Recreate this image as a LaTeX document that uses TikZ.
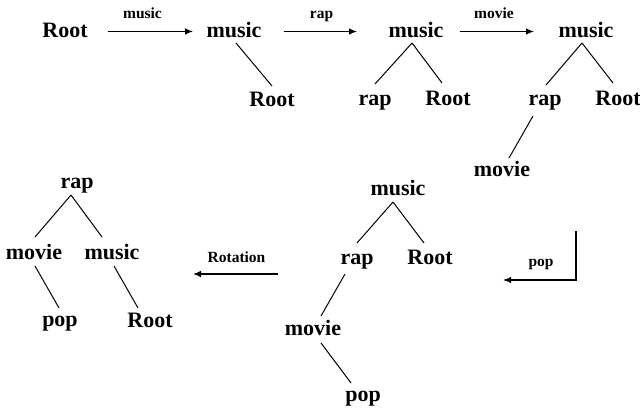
\documentclass[tikz,border=0pt]{standalone}
\usepackage{fontspec}
\setmainfont{Liberation Serif}
\usetikzlibrary{arrows.meta}
\tikzset{
  big/.style={font=\fontsize{22}{26}\selectfont\bfseries, inner sep=0pt, anchor=base},
  small/.style={font=\fontsize{15.5}{18}\selectfont\bfseries, inner sep=0pt, anchor=base},
  edge/.style={line width=1pt},
  arr/.style={line width=1.1pt, -{Latex[length=8pt,width=6.5pt]}},
}
\begin{document}
\begin{tikzpicture}[x=1pt,y=-1pt]
\useasboundingbox (0,0) rectangle (640,409);
% ---- row 1
\node[big] (n1) at (65,38) {Root};
\node[big] (n2) at (234,38) {music};
\node[big] (n2r) at (272,107) {Root};
\node[big] (n3) at (416,38) {music};
\node[big] (n3a) at (375,106) {rap};
\node[big] (n3b) at (448,106) {Root};
\node[big] (n4) at (586,38) {music};
\node[big] (n4a) at (545,106) {rap};
\node[big] (n4b) at (618,106) {Root};
\node[big] (n4c) at (502,177) {movie};
\draw[edge] ([shift={(2,5)}]n2.base) -- ([shift={(0,-21)}]n2r.base);
\draw[edge] ([shift={(-4,5)}]n3.base) -- ([shift={(0,-22)}]n3a.base);
\draw[edge] ([shift={(-4,5)}]n3.base) -- ([shift={(-6,-23)}]n3b.base);
\draw[edge] ([shift={(-4,5)}]n4.base) -- ([shift={(1,-21)}]n4a.base);
\draw[edge] ([shift={(-4,5)}]n4.base) -- ([shift={(-5,-23)}]n4b.base);
\draw[edge] ([shift={(-12,10)}]n4a.base) -- ([shift={(7,-19)}]n4c.base);
% row 1 arrows
\coordinate (a1s) at (108,31.5); \coordinate (a1e) at (193,31.5);
\coordinate (a2s) at (284,31.5); \coordinate (a2e) at (357,31.5);
\coordinate (a3s) at (460,31.5); \coordinate (a3e) at (534,31.5);
\draw[arr] (a1s) -- (a1e);
\draw[arr] (a2s) -- (a2e);
\draw[arr] (a3s) -- (a3e);
\node[small] (l1) at (142.5,19) {music};
\node[small] (l2) at (321.5,19) {rap};
\node[small] (l3) at (494,19) {movie};
% ---- right tree row 2
\node[big] (r1) at (398,195) {music};
\node[big] (r2) at (357,264) {rap};
\node[big] (r3) at (430,264) {Root};
\node[big] (r4) at (313,335) {movie};
\node[big] (r5) at (363,401) {pop};
\draw[edge] ([shift={(-5,7)}]r1.base) -- ([shift={(0,-21)}]r2.base);
\draw[edge] ([shift={(-5,7)}]r1.base) -- ([shift={(-6,-21)}]r3.base);
\draw[edge] ([shift={(-12,10)}]r2.base) -- ([shift={(8,-19)}]r4.base);
\draw[edge] ([shift={(8,8)}]r4.base) -- ([shift={(-12,-18)}]r5.base);
% pop elbow arrow
\coordinate (p1) at (576,231); \coordinate (p2) at (576,280); \coordinate (p3) at (503,280);
\draw[arr] (p1) -- (p2) -- (p3);
\node[small] (lp) at (541,266) {pop};
% rotation arrow
\coordinate (rs) at (278,274); \coordinate (re) at (193,274);
\draw[arr] (rs) -- (re);
\node[small] (lr) at (236.5,262) {Rotation};
% ---- left tree
\node[big] (t1) at (77,189) {rap};
\node[big] (t2) at (34,259) {movie};
\node[big] (t3) at (112,259) {music};
\node[big] (t4) at (60,326) {pop};
\node[big] (t5) at (150,327) {Root};
\draw[edge] ([shift={(-6,6)}]t1.base) -- ([shift={(1,-22)}]t2.base);
\draw[edge] ([shift={(-6,6)}]t1.base) -- ([shift={(-10,-22)}]t3.base);
\draw[edge] ([shift={(1,7)}]t2.base) -- ([shift={(-1,-18)}]t4.base);
\draw[edge] ([shift={(2,7)}]t3.base) -- ([shift={(-12,-19)}]t5.base);
\end{tikzpicture}
\end{document}
